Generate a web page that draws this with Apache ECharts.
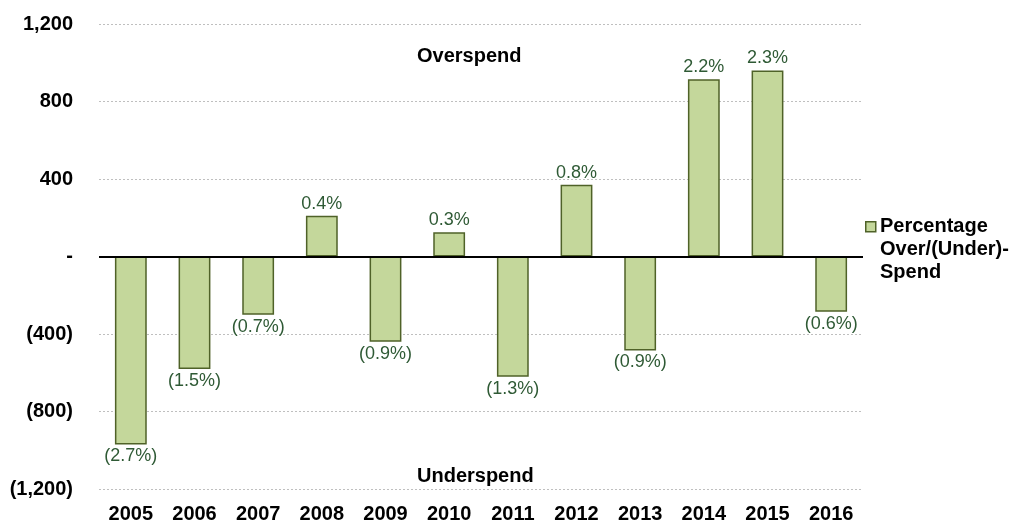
<!DOCTYPE html>
<html>
<head>
<meta charset="utf-8">
<script src="https://cdn.jsdelivr.net/npm/echarts@6/dist/echarts.min.js"></script>
<style>
  html, body { margin: 0; padding: 0; background: #fff; }
  #chart { width: 1020px; height: 524px; }
</style>
</head>
<body>
<div id="chart"></div>
<script>
// years on the x axis
const years = ['2005', '2006', '2007', '2008', '2009', '2010', '2011', '2012', '2013', '2014', '2015', '2016'];
// over/(under)-spend amounts
const spend = [-970, -580, -300, 210, -440, 125, -620, 370, -485, 915, 960, -285];
// percentage labels shown above/below each bar
const pctLabels = ['(2.7%)', '(1.5%)', '(0.7%)', '0.4%', '(0.9%)', '0.3%', '(1.3%)', '0.8%', '(0.9%)', '2.2%', '2.3%', '(0.6%)'];
const seriesName = 'Percentage\nOver/(Under)-\nSpend';

function fmtAxis(v) {
  if (v === 0) return '-';
  const s = Math.abs(v).toLocaleString('en-US');
  return v < 0 ? '(' + s + ')' : s;
}

const chart = echarts.init(document.getElementById('chart'));
const font = 'Liberation Sans, Arial, sans-serif';

chart.setOption({
  animation: false,
  grid: { left: 99, right: 157, top: 24, bottom: 34 },
  xAxis: {
    type: 'category',
    data: years,
    axisLine: { show: false },
    axisTick: { show: false },
    axisLabel: {
      fontFamily: font, fontWeight: 'bold', fontSize: 20, color: '#000', margin: 15
    }
  },
  yAxis: {
    type: 'value',
    min: -1200,
    max: 1200,
    interval: 400,
    axisLine: { show: false },
    axisTick: { show: false },
    splitLine: { lineStyle: { color: '#bfbfbf', type: [2, 2], width: 1 } },
    axisLabel: {
      fontFamily: font, fontWeight: 'bold', fontSize: 20, color: '#000', margin: 26,
      formatter: fmtAxis
    }
  },
  graphic: [
    { type: 'text', left: 417, top: 46, style: { text: 'Overspend', font: 'bold 20px ' + font, fill: '#000' } },
    { type: 'text', left: 417, top: 466, style: { text: 'Underspend', font: 'bold 20px ' + font, fill: '#000' } },
    // legend
    { type: 'rect', left: 865, top: 221, shape: { width: 10, height: 10 },
      style: { fill: '#c4d79b', stroke: '#4f6228', lineWidth: 1.5 } },
    { type: 'text', left: 880, top: 215,
      style: { text: seriesName, font: 'bold 20px ' + font, fill: '#000', lineHeight: 23 } }
  ],
  series: [{
    name: seriesName,
    type: 'bar',
    barWidth: '50%',
    data: spend,
    itemStyle: { color: '#c4d79b', borderColor: '#4f6228', borderWidth: 1.5 },
    label: {
      show: true,
      position: 'outside',
      fontFamily: font,
      fontSize: 18,
      color: '#2f5a35',
      distance: 3,
      formatter: p => pctLabels[p.dataIndex]
    },
    markLine: {
      silent: true,
      symbol: 'none',
      label: { show: false },
      lineStyle: { color: '#000', type: 'solid', width: 2 },
      data: [{ yAxis: 0 }]
    }
  }]
});
</script>
</body>
</html>
